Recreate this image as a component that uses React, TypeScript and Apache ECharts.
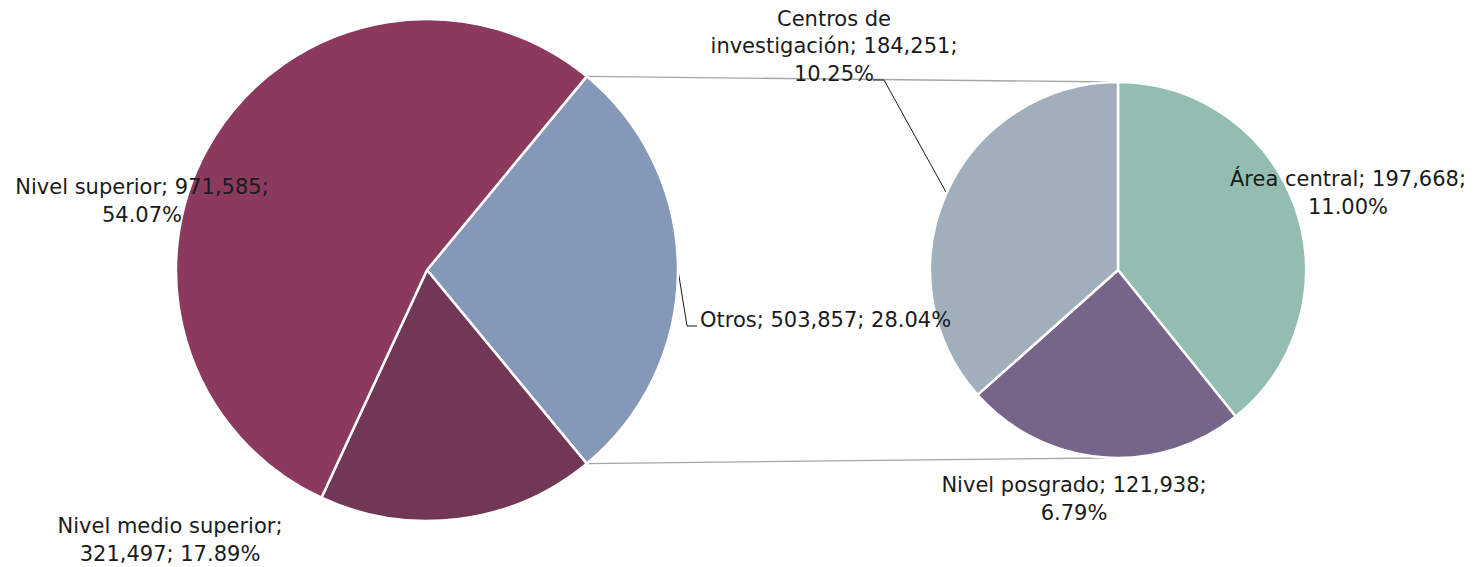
import React, { useEffect, useRef } from "react";
import * as echarts from "echarts";

const MAIN_CATEGORIES = ["Otros", "Nivel medio superior", "Nivel superior"];
const MAIN_VALUES = [503857, 321497, 971585];
const MAIN_COLORS = ["#8598B8", "#723657", "#8B3A5E"];

const SUB_CATEGORIES = ["Área central", "Nivel posgrado", "Centros de investigación"];
const SUB_VALUES = [197668, 121938, 184251];
const SUB_COLORS = ["#93BDB1", "#776489", "#A1AFBD"];

const GRAND_TOTAL = MAIN_VALUES.reduce((a, b) => a + b, 0);
const SUB_TOTAL = SUB_VALUES.reduce((a, b) => a + b, 0);

const MAIN_CENTER = [427, 270];
const MAIN_R = 251;
const SUB_CENTER = [1118, 270];
const SUB_R = 188;

const fmt = (v: number) => v.toLocaleString("en-US");
const pct = (v: number) => ((v / GRAND_TOTAL) * 100).toFixed(2) + "%";

// line-break style of each label
const LABEL_TEXT: Record<string, (n: string, v: string, p: string) => string> = {
  "Otros": (n, v, p) => `${n}; ${v}; ${p}`,
  "Nivel medio superior": (n, v, p) => `${n};\n${v}; ${p}`,
  "Nivel superior": (n, v, p) => `${n}; ${v};\n${p}`,
  "Área central": (n, v, p) => `${n}; ${v};\n${p}`,
  "Nivel posgrado": (n, v, p) => `${n}; ${v};\n${p}`,
  "Centros de investigación": (n, v, p) => `Centros de\ninvestigación; ${v};\n${p}`,
};

const LABEL_POS: Record<string, { x: number; y: number; align: string }> = {
  "0-0": { x: 700, y: 320, align: "left" },
  "0-1": { x: 170, y: 540, align: "center" },
  "0-2": { x: 142, y: 201, align: "center" },
  "1-0": { x: 1348, y: 193, align: "center" },
  "1-1": { x: 1074, y: 499, align: "center" },
  "1-2": { x: 834, y: 46, align: "center" },
};

const polar = (c: number[], r: number, deg: number) => {
  const a = (deg * Math.PI) / 180;
  return [c[0] + r * Math.cos(a), c[1] - r * Math.sin(a)];
};

export default function App() {
  const ref = useRef<HTMLDivElement>(null);
  useEffect(() => {
    document.body.style.margin = "0";
    if (!ref.current) return;
    const chart = echarts.init(ref.current, null, { renderer: "svg" });

    const mainStart = (MAIN_VALUES[0] / GRAND_TOTAL) * 180;
    const otrosMid = mainStart - (MAIN_VALUES[0] / GRAND_TOTAL) * 180;
    const centrosMid =
      90 - ((SUB_VALUES[0] + SUB_VALUES[1]) / SUB_TOTAL) * 360 - (SUB_VALUES[2] / SUB_TOTAL) * 180;

    const mainTop = polar(MAIN_CENTER, MAIN_R, mainStart);
    const mainBot = polar(MAIN_CENTER, MAIN_R, -mainStart);
    const subTop = polar(SUB_CENTER, SUB_R, 90.9);
    const subBot = polar(SUB_CENTER, SUB_R, -87);

    const otrosEdge = polar(MAIN_CENTER, MAIN_R, otrosMid);
    const centrosEdge = polar(SUB_CENTER, SUB_R, centrosMid);

    const textStyle = {
      fontFamily: "DejaVu Sans",
      fontSize: 21,
      lineHeight: 27.5,
      color: "#1a1a1a",
    };

    const formatter = (p: any) =>
      LABEL_TEXT[p.name](p.name, fmt(p.value), pct(p.value));

    const labelLayout = (p: any) => {
      const pos = LABEL_POS[`${p.seriesIndex}-${p.dataIndex}`];
      const out: any = {
        x: pos.x,
        y: pos.y,
        align: pos.align,
        verticalAlign: "middle",
      };
      if (p.seriesIndex === 0 && p.dataIndex === 0) {
        out.labelLinePoints = [
          otrosEdge,
          [pos.x - 13, pos.y + 6],
          [pos.x - 3, pos.y + 6],
        ];
      }
      if (p.seriesIndex === 1 && p.dataIndex === 2) {
        out.labelLinePoints = [
          centrosEdge,
          [pos.x + 50, pos.y + 34],
          [pos.x + 39, pos.y + 34],
        ];
      }
      return out;
    };

    const withLine = (name: string) => name === "Otros" || name === "Centros de investigación";

    chart.setOption({
      animation: false,
      backgroundColor: "#ffffff",
      graphic: [
        {
          type: "line",
          z: 0,
          shape: { x1: mainTop[0], y1: mainTop[1], x2: subTop[0], y2: subTop[1] },
          style: { stroke: "#A6A6A6", lineWidth: 1.3 },
          silent: true,
        },
        {
          type: "line",
          z: 0,
          shape: { x1: mainBot[0], y1: mainBot[1], x2: subBot[0], y2: subBot[1] },
          style: { stroke: "#A6A6A6", lineWidth: 1.3 },
          silent: true,
        },
      ],
      series: [
        {
          type: "pie",
          center: MAIN_CENTER,
          radius: MAIN_R,
          startAngle: mainStart,
          clockwise: true,
          silent: true,
          avoidLabelOverlap: false,
          itemStyle: { borderColor: "#ffffff", borderWidth: 2.5 },
          label: { show: true, position: "outside", formatter, ...textStyle },
          labelLine: { show: true, lineStyle: { color: "#1a1a1a", width: 1 } },
          labelLayout,
          data: MAIN_CATEGORIES.map((name, i) => ({
            name,
            value: MAIN_VALUES[i],
            itemStyle: { color: MAIN_COLORS[i] },
            labelLine: { show: withLine(name) },
          })),
        },
        {
          type: "pie",
          center: SUB_CENTER,
          radius: SUB_R,
          startAngle: 90,
          clockwise: true,
          silent: true,
          avoidLabelOverlap: false,
          itemStyle: { borderColor: "#ffffff", borderWidth: 2.5 },
          label: { show: true, position: "outside", formatter, ...textStyle },
          labelLine: { show: true, lineStyle: { color: "#1a1a1a", width: 1 } },
          labelLayout,
          data: SUB_CATEGORIES.map((name, i) => ({
            name,
            value: SUB_VALUES[i],
            itemStyle: { color: SUB_COLORS[i] },
            labelLine: { show: withLine(name) },
          })),
        },
      ],
    });
    return () => chart.dispose();
  }, []);
  return <div ref={ref} style={{ width: 1476, height: 567 }} />;
}
